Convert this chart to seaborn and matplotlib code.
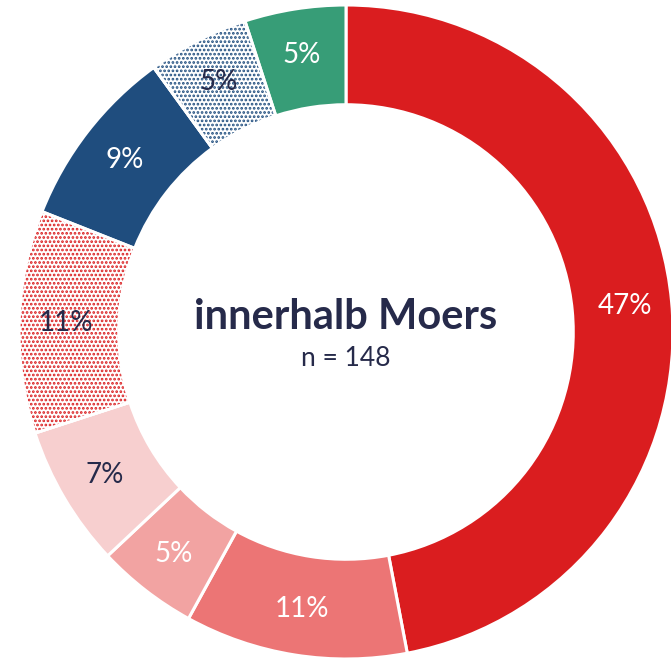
import matplotlib.pyplot as plt
import numpy as np
import seaborn as sns
from matplotlib.patches import Wedge

# Data (clockwise from 12 o'clock)
shares = [47, 11, 5, 7, 11, 9, 5, 5]
labels = ['47%', '11%', '5%', '7%', '11%', '9%', '5%', '5%']
colors = ['#DA1D1F', '#EC7575', '#F2A3A2', '#F7CFCF', '#FFFFFF', '#1F4D7E', '#FFFFFF', '#379D77']
hatch_colors = [None, None, None, None, '#DA1D1F', None, '#1F4D7E', None]
text_colors = ['white', 'white', 'white', '#262A4A', '#262A4A', 'white', '#262A4A', 'white']

title = 'innerhalb Moers'
subtitle = 'n = 148'

sns.set_theme(style='white')
plt.rcParams['font.family'] = ['Lato', 'DejaVu Sans']
plt.rcParams['hatch.linewidth'] = 1.3

fig = plt.figure(figsize=(6.71, 6.60), dpi=100)
ax = fig.add_axes([0, 0, 1, 1])

ring = 0.305
wedges, _ = ax.pie(shares, colors=colors, startangle=90, counterclock=False,
                   radius=1, wedgeprops=dict(width=ring, edgecolor='white', linewidth=2.2))

# dotted segments
for w, hc in zip(wedges, hatch_colors):
    if hc is None:
        continue
    dots = Wedge(w.center, w.r, w.theta1, w.theta2, width=w.width,
                 facecolor='none', edgecolor=hc, linewidth=0, hatch='....')
    ax.add_patch(dots)
    edge = Wedge(w.center, w.r, w.theta1, w.theta2, width=w.width,
                 facecolor='none', edgecolor='white', linewidth=2.2)
    ax.add_patch(edge)

for w, lab, tc in zip(wedges, labels, text_colors):
    ang = np.deg2rad((w.theta1 + w.theta2) / 2)
    r = 1 - ring / 2 + 0.01
    ax.text(r * np.cos(ang), r * np.sin(ang), lab, ha='center', va='center',
            fontsize=20, color=tc)

ax.text(0, 0.045, title, ha='center', va='center', fontsize=30,
        fontweight='bold', color='#262A4A')
ax.text(0, -0.08, subtitle, ha='center', va='center', fontsize=19, color='#262A4A')

px = 327.0
ax.set_xlim(-346 / px, (671 - 346) / px)
ax.set_ylim(-(660 - 332) / px, 332 / px)
ax.set_aspect('equal')
ax.axis('off')

fig.savefig('out.png', dpi=100)
